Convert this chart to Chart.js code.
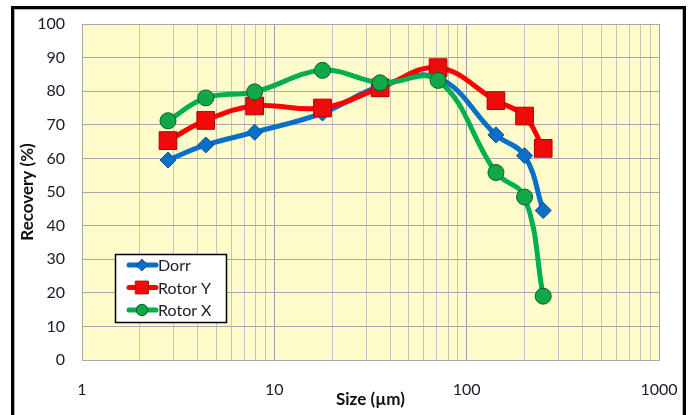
<!DOCTYPE html>
<html>
<head>
<meta charset="utf-8">
<script src="https://cdn.jsdelivr.net/npm/chart.js@4.4.1/dist/chart.umd.min.js"></script>
<style>
  html, body { margin: 0; padding: 0; background: #fff; }
  #wrap { width: 692px; height: 415px; position: relative; }
</style>
</head>
<body>
<div id="wrap"><canvas id="myChart" width="692" height="415"></canvas></div>
<script>
// particle sizes (µm) and recoveries (%)
const sizes = [2.8, 4.4, 7.9, 17.8, 35.5, 71, 142, 200, 250];
const dorr = [59.5, 64, 67.8, 73.5, 81.5, 84, 67, 60.8, 44.5];
const rotorY = [65.3, 71.3, 75.6, 75, 81, 87, 77.2, 72.6, 63];
const rotorX = [71.2, 78, 79.8, 86.2, 82.5, 83.2, 55.8, 48.5, 19];
const seriesNames = ["Dorr", "Rotor Y", "Rotor X"];
const xTicks = [1, 10, 100, 1000];
const yTicks = [0, 10, 20, 30, 40, 50, 60, 70, 80, 90, 100];

const FONT = "Lato, 'Liberation Sans', sans-serif";

const toPoints = (vals) => sizes.map((s, i) => ({ x: s, y: vals[i] }));

const frame = {
  id: "frame",
  beforeDraw(chart) {
    const c = chart.ctx;
    const a = chart.chartArea;
    c.save();
    c.fillStyle = "#fff";
    c.fillRect(0, 0, chart.width, chart.height);
    c.strokeStyle = "#000";
    c.lineWidth = 3;
    c.strokeRect(12.5, 7.5, 672, 420);
    c.strokeStyle = "#b0b0b0";
    c.lineWidth = 1;
    c.strokeRect(14.5, 9.5, 668, 420);
    c.fillStyle = "#FEFCCA";
    c.fillRect(a.left, a.top, a.right - a.left, a.bottom - a.top);
    c.restore();
  },
  afterDatasetsDraw(chart) {
    // legend box inside the plot
    const c = chart.ctx;
    c.save();
    c.fillStyle = "#fff";
    c.fillRect(115, 254, 111, 68);
    c.strokeStyle = "#000";
    c.lineWidth = 1.5;
    c.strokeRect(115.5, 254.5, 111, 68);
    const rows = [265, 287.5, 310];
    [0, 1, 2].forEach((di, r) => {
      const ds = chart.data.datasets[di];
      const y = rows[r];
      c.strokeStyle = ds.borderColor;
      c.lineWidth = 5;
      c.lineCap = "round";
      c.beginPath();
      c.moveTo(129, y);
      c.lineTo(156, y);
      c.stroke();
      c.fillStyle = ds.pointBackgroundColor;
      c.strokeStyle = ds.pointBorderColor;
      c.lineWidth = 1;
      Chart.helpers.drawPoint(c, {
        pointStyle: ds.pointStyle,
        radius: ds.pointRadius * 0.72,
        borderWidth: 1
      }, 142, y);
      c.fillStyle = "#1a1a2a";
      c.font = "16px " + FONT;
      c.textBaseline = "middle";
      c.textAlign = "left";
      c.fillText(seriesNames[di], 158, y + 1);
    });
    c.restore();
  }
};

const ctx = document.getElementById("myChart").getContext("2d");
const myChart = new Chart(ctx, {
  type: "line",
  data: {
    datasets: [
      {
        label: seriesNames[0],
        data: toPoints(dorr),
        borderColor: "#0870C8",
        borderWidth: 5,
        pointStyle: "rectRot",
        pointRadius: 8,
        pointBackgroundColor: "#0A6FC9",
        pointBorderColor: "#0A4E90",
        pointBorderWidth: 1,
        tension: 0.4,
        order: 2
      },
      {
        label: seriesNames[1],
        data: toPoints(rotorY),
        borderColor: "#FF0000",
        borderWidth: 5,
        pointStyle: "rect",
        pointRadius: 12.5,
        pointBackgroundColor: "#F00A0A",
        pointBorderColor: "#B00000",
        pointBorderWidth: 1,
        tension: 0.4,
        order: 1
      },
      {
        label: seriesNames[2],
        data: toPoints(rotorX),
        borderColor: "#00B050",
        borderWidth: 5,
        pointStyle: "circle",
        pointRadius: 8,
        pointBackgroundColor: "#10A848",
        pointBorderColor: "#05602A",
        pointBorderWidth: 1,
        tension: 0.4,
        order: 0
      }
    ]
  },
  plugins: [frame],
  options: {
    responsive: false,
    animation: false,
    layout: { padding: { left: 14, right: 33, top: 24, bottom: 0 } },
    plugins: { legend: { display: false }, tooltip: { enabled: false } },
    scales: {
      x: {
        type: "logarithmic",
        min: 1,
        max: 1000,
        afterBuildTicks(axis) {
          const t = [];
          for (let d = 1; d < 1000; d *= 10) {
            for (let m = 1; m < 10; m++) t.push({ value: m * d });
          }
          t.push({ value: 1000 });
          axis.ticks = t;
        },
        afterFit(axis) {
          axis.height = 55;
          axis.paddingLeft = 0;
          axis.paddingRight = 0;
        },
        ticks: {
          autoSkip: false,
          maxRotation: 0,
          padding: 20,
          color: "#1a1a2a",
          font: { family: FONT, size: 16 },
          callback: (v) => (xTicks.includes(v) ? String(v) : "")
        },
        grid: {
          drawTicks: false,
          color: (c) => (xTicks.includes(c.tick && c.tick.value) ? "#a0a0a0" : "#c4c4bc"),
          lineWidth: 1
        },
        border: { color: "#a8a8a8", width: 1 },
        title: {
          display: true,
          text: "Size (µm)",
          color: "#111",
          font: { family: FONT, size: 17, weight: "bold" },
          padding: { top: 0, bottom: 5 }
        }
      },
      y: {
        min: 0,
        max: 100,
        afterBuildTicks(axis) { axis.ticks = yTicks.map((v) => ({ value: v })); },
        afterFit(axis) {
          axis.width = 68;
          axis.paddingTop = 0;
          axis.paddingBottom = 0;
        },
        ticks: {
          padding: 17,
          color: "#1a1a2a",
          font: { family: FONT, size: 16 }
        },
        grid: { drawTicks: false, color: "#a8a8a8", lineWidth: 1 },
        border: { color: "#a8a8a8", width: 1 },
        title: {
          display: true,
          text: "Recovery (%)",
          color: "#111",
          font: { family: FONT, size: 17, weight: "bold" },
          padding: { top: 3, bottom: 0 }
        }
      }
    }
  }
});
</script>
</body>
</html>
